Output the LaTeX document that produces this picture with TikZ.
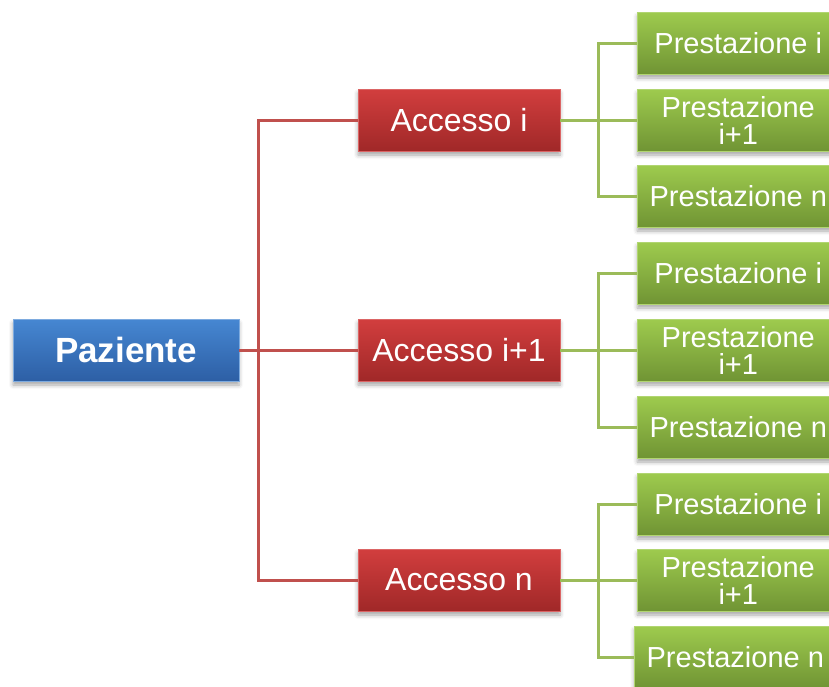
\documentclass[tikz,border=0pt]{standalone}
\usepackage{fontspec}
\setmainfont{Liberation Sans}
\usetikzlibrary{shadows.blur}
\definecolor{bluetop}{RGB}{70,135,210}
\definecolor{bluebot}{RGB}{45,95,165}
\definecolor{redtop}{RGB}{210,62,62}
\definecolor{redbot}{RGB}{160,40,40}
\definecolor{greentop}{RGB}{158,203,78}
\definecolor{greenbot}{RGB}{112,148,52}
\definecolor{redline}{RGB}{192,80,77}
\definecolor{greenline}{RGB}{155,187,89}
\tikzset{
  box/.style={rectangle, minimum height=62pt, text=white, align=center, inner sep=0pt,
    blur shadow={shadow xshift=0pt, shadow yshift=-4pt, shadow blur radius=4pt, shadow opacity=35}},
  rootbox/.style={box, minimum width=226pt, top color=bluetop, bottom color=bluebot, draw=bluetop!70!white, line width=0.6pt,
    font=\fontsize{35}{35}\selectfont\bfseries},
  accbox/.style={box, minimum width=202pt, top color=redtop, bottom color=redbot, draw=redtop!80!white, line width=0.6pt,
    font=\fontsize{32}{32}\selectfont},
  prbox/.style={box, minimum width=202pt, top color=greentop, bottom color=greenbot, draw=greentop!80!white, line width=0.6pt,
    font=\fontsize{29}{29}\selectfont, anchor=west},
  redc/.style={draw=redline, line width=3pt},
  greenc/.style={draw=greenline, line width=3pt},
}
\begin{document}
\begin{tikzpicture}[x=1pt,y=-1pt]
\useasboundingbox (0,0) rectangle (829,686);
\begin{scope}
\clip (0,0) rectangle (829,686);
\coordinate (rj) at (258,350);
\node[rootbox] (paz) at (126,350) {Paziente};
\node[accbox] (a1) at (459,120) {Accesso i};
\node[accbox] (a2) at (459,350) {Accesso i+1};
\node[accbox] (a3) at (459,580) {Accesso n};
\node[prbox] (p11) at (637,43) {Prestazione i};
\node[prbox] (p12) at (637,120) {Prestazione\\[-2pt]i+1};
\node[prbox] (p13) at (637,196) {Prestazione n};
\node[prbox] (p21) at (637,273) {Prestazione i};
\node[prbox] (p22) at (637,350) {Prestazione\\[-2pt]i+1};
\node[prbox] (p23) at (637,427) {Prestazione n};
\node[prbox] (p31) at (637,504) {Prestazione i};
\node[prbox] (p32) at (637,580) {Prestazione\\[-2pt]i+1};
\node[prbox] (p33) at (634,657) {Prestazione n};
% red connectors
\draw[redc] (paz.east) -- (rj);
\draw[redc] (rj) |- (a1.west);
\draw[redc] (rj) |- (a3.west);
\draw[redc] (rj) -- (a2.west);
% green connectors
\foreach \a/\p in {a1/p1,a2/p2,a3/p3}{
  \coordinate (j\a) at ([xshift=38pt]\a.east);
  \draw[greenc] (\a.east) -- (j\a);
  \draw[greenc] (j\a) |- (\p1.west);
  \draw[greenc] (j\a) |- (\p3.west);
  \draw[greenc] (j\a) -- (\p2.west);
}
\end{scope}
\end{tikzpicture}
\end{document}
